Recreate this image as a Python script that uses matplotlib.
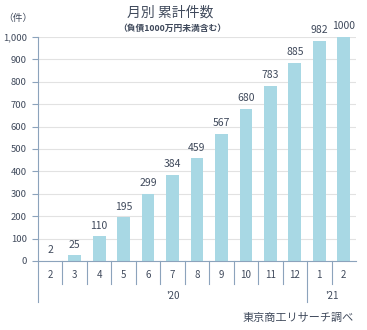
import matplotlib.pyplot as plt
from matplotlib.lines import Line2D
import matplotlib.transforms as mtransforms

plt.rcParams['font.family'] = ['Noto Sans CJK JP', 'DejaVu Sans']

months = ['2', '3', '4', '5', '6', '7', '8', '9', '10', '11', '12', '1', '2']
counts = [2, 25, 110, 195, 299, 384, 459, 567, 680, 783, 885, 982, 1000]
years = ["'20", "'21"]

bar_color = '#a8d8e4'
text_color = '#404a5c'
axis_color = '#8ca3bc'

fig = plt.figure(figsize=(3.67, 3.30), dpi=100)
ax = fig.add_axes([38 / 367, 69 / 330, 318 / 367, 224 / 330])

x = list(range(len(months)))
ax.bar(x, counts, width=0.52, color=bar_color, zorder=2)
for xi, v in zip(x, counts):
    ax.annotate(str(v), (xi, v), xytext=(0, 4), textcoords='offset points',
                ha='center', va='bottom', fontsize=7.5, color=text_color,
                annotation_clip=False)

ax.set_xlim(-0.5, len(months) - 0.5)
ax.set_ylim(0, 1000)
ax.set_yticks(range(0, 1001, 100))
ax.set_yticklabels([f'{v:,}' for v in range(0, 1001, 100)], fontsize=6.8, color=text_color)
ax.yaxis.grid(True, color='#e2e2e2', linewidth=0.8, zorder=0)
ax.tick_params(axis='y', length=4, color=axis_color, width=0.8, pad=4)
ax.set_xticks([])

for s in ['top', 'right']:
    ax.spines[s].set_visible(False)
for s in ['left', 'bottom']:
    ax.spines[s].set_color(axis_color)
    ax.spines[s].set_linewidth(0.8)

# multi-level category axis
trans = mtransforms.blended_transform_factory(ax.transData, ax.transAxes)
for xi, m in zip(x, months):
    ax.text(xi, -0.063, m, transform=trans, ha='center', va='center',
            fontsize=7, color=text_color)
for b in range(1, len(months)):
    bx = b - 0.5
    y_end = -0.185 if b == 11 else -0.103
    ax.add_line(Line2D([bx, bx], [0, y_end], transform=trans, color=axis_color,
                       linewidth=0.8, clip_on=False))
ax.add_line(Line2D([-0.5, -0.5], [0, -0.185], transform=trans, color=axis_color,
                   linewidth=0.8, clip_on=False))
ax.text(5, -0.157, years[0], transform=trans, ha='center', va='center',
        fontsize=7, color=text_color)
ax.text(11.5, -0.157, years[1], transform=trans, ha='center', va='center',
        fontsize=7, color=text_color)

# titles
fig.text(170 / 367, 1 - 13 / 330, '月別 累計件数', ha='center', va='center',
         fontsize=10, color=text_color)
fig.text(172 / 367, 1 - 28 / 330, '（負債1000万円未満含む）', ha='center', va='center',
         fontsize=6.3, color=text_color, fontweight='bold')
fig.text(18 / 367, 1 - 18 / 330, '（件）', ha='center', va='center',
         fontsize=7, color=text_color)

# source
fig.text(298 / 367, 1 - 318 / 330, '東京商工リサーチ調べ', ha='center', va='center',
         fontsize=8, color=text_color)

fig.savefig('out.png', dpi=100)
